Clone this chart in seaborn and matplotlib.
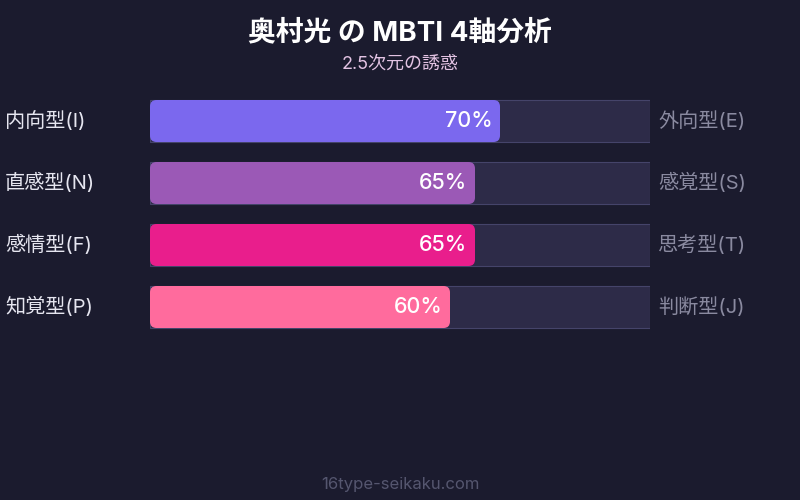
import matplotlib
matplotlib.use("Agg")
import matplotlib.pyplot as plt
import seaborn as sns
import pandas as pd
from matplotlib.patches import FancyBboxPatch

# ==============================
# DATA
# ==============================

left_labels = ["内向型(I)", "直感型(N)", "感情型(F)", "知覚型(P)"]
right_labels = ["外向型(E)", "感覚型(S)", "思考型(T)", "判断型(J)"]
values = [70, 65, 65, 60]
bar_colors = ["#7b68ee", "#9b59b6", "#e91e8c", "#ff6b9d"]

title = "奥村光 の MBTI 4軸分析"
subtitle = "2.5次元の誘惑"
footer = "16type-seikaku.com"

df = pd.DataFrame({"axis": left_labels, "value": values, "track": [100] * len(values)})

# ==============================
# STYLE
# ==============================

BG = "#1b1b2e"
sns.set_style("dark")
plt.rcParams["font.family"] = ["Inter", "Noto Sans CJK JP", "DejaVu Sans"]

fig = plt.figure(figsize=(8, 5), dpi=100, facecolor=BG)
ax = fig.add_axes([150 / 800, 1 - 338 / 500, 500 / 800, 248 / 500])
ax.set_facecolor(BG)

# track
sns.barplot(data=df, x="track", y="axis", orient="h", color="#2d2b48",
            saturation=1, width=42 / 62, edgecolor="#45446a", linewidth=0.8, ax=ax)
n_track = len(ax.patches)

# filled bars
sns.barplot(data=df, x="value", y="axis", orient="h", hue="axis",
            palette=bar_colors, saturation=1, width=42 / 62, linewidth=0,
            legend=False, ax=ax)

# round the filled bars
for p in list(ax.patches[n_track:]):
    x0, y0, w, h = p.get_x(), p.get_y(), p.get_width(), p.get_height()
    box = FancyBboxPatch((x0, y0), w, h,
                         boxstyle="round,pad=0,rounding_size=1.3",
                         mutation_aspect=5 / 62,
                         facecolor=p.get_facecolor(), edgecolor="none", zorder=3)
    p.remove()
    ax.add_patch(box)

ax.set_xlim(0, 100)
ax.set_ylim(3.5, -0.5)
ax.set_xlabel("")
ax.set_ylabel("")
ax.set_xticks([])
ax.set_yticks([])
for s in ax.spines.values():
    s.set_visible(False)
ax.grid(False)

for i, v in enumerate(values):
    ax.text(v - 1.5, i, f"{v}%", ha="right", va="center", color="white",
            fontsize=15.5, fontweight="medium", zorder=4)
    ax.text(-29.0, i, left_labels[i], ha="left", va="center", color="#e6e6f0",
            fontsize=14.5, clip_on=False)
    ax.text(101.6, i, right_labels[i], ha="left", va="center", color="#8a8aa0",
            fontsize=14.5, clip_on=False)

fig.text(0.5, 1 - 33 / 500, title, ha="center", va="center", color="white",
         fontsize=20, fontweight="bold")
fig.text(0.5, 1 - 64 / 500, subtitle, ha="center", va="center", color="#e3c3e3",
         fontsize=13)
fig.text(0.5, 1 - 484 / 500, footer, ha="center", va="center", color="#55566f",
         fontsize=12)

fig.savefig("out.png", dpi=100, facecolor=BG)
